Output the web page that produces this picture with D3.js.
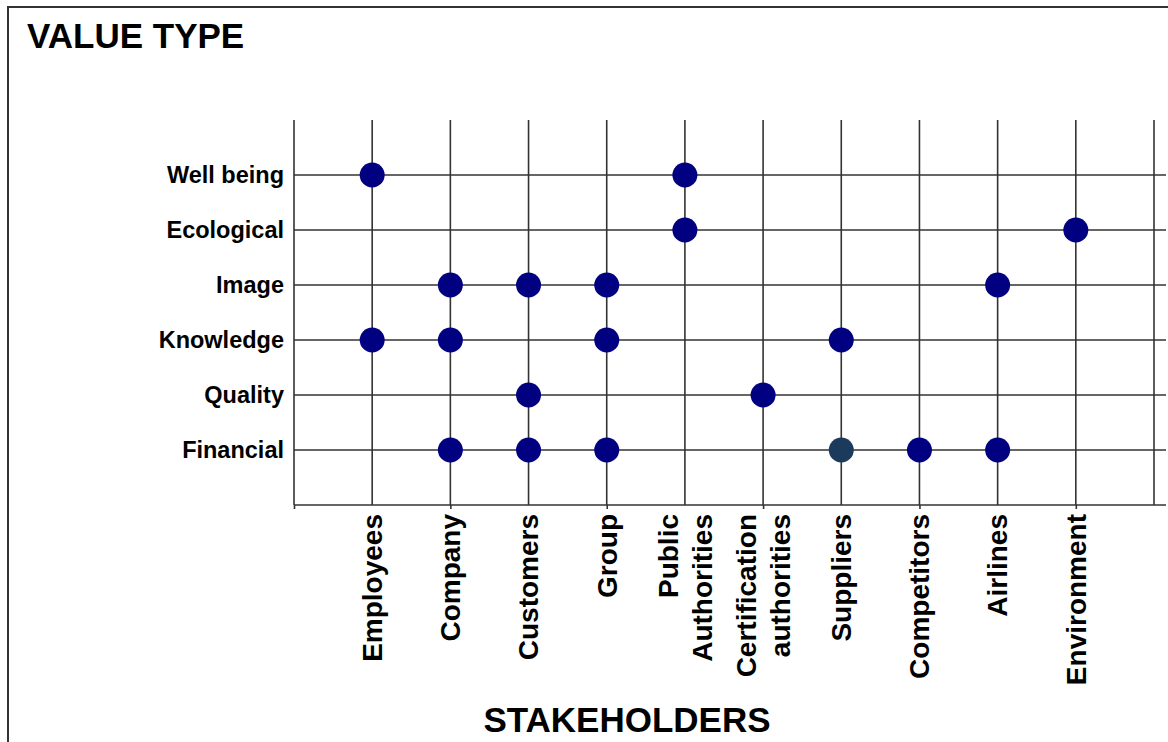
<!DOCTYPE html>
<html>
<head>
<meta charset="utf-8">
<script src="https://cdn.jsdelivr.net/npm/d3@7"></script>
<style>
  body { margin: 0; background: #fff; }
  text { font-family: "Liberation Sans", Arial, sans-serif; font-weight: bold; fill: #000; }
</style>
</head>
<body>
<script>
var width = 1168,
    height = 742

// Stakeholders on the x axis, left to right ("\n" breaks a label)
var stakeholders = ["Employees", "Company", "Customers", "Group", "Public\nAuthorities",
    "Certification\nauthorities", "Suppliers", "Competitors", "Airlines", "Environment"]

// Value types on the y axis, bottom to top
var valueTypes = ["Financial", "Quality", "Knowledge", "Image", "Ecological", "Well being"]

// Which stakeholder gets which value
var links = [
    ["Well being", "Employees"], ["Well being", "Public\nAuthorities"],
    ["Ecological", "Public\nAuthorities"], ["Ecological", "Environment"],
    ["Image", "Company"], ["Image", "Customers"], ["Image", "Group"], ["Image", "Airlines"],
    ["Knowledge", "Employees"], ["Knowledge", "Company"], ["Knowledge", "Group"], ["Knowledge", "Suppliers"],
    ["Quality", "Customers"], ["Quality", "Certification\nauthorities"],
    ["Financial", "Company"], ["Financial", "Customers"], ["Financial", "Group"],
    ["Financial", "Suppliers"], ["Financial", "Competitors"], ["Financial", "Airlines"]
]

// the one dot drawn in a different blue
var highlighted = [["Financial", "Suppliers"]]

var svg = d3.select("body").append("svg")
    .attr("width", width)
    .attr("height", height)

// frame: only top and left edges are inside the picture
svg.append("path")
    .attr("d", "M8," + height + "V7H" + width)
    .attr("fill", "none")
    .attr("stroke", "#333")
    .attr("stroke-width", 2)

var x = d3.scaleLinear()
    .domain([0, stakeholders.length + 1])
    .range([294, 1154])

var y = d3.scaleLinear()
    .domain([0, valueTypes.length + 1])
    .range([505, 120])

var grid = svg.append("g")
    .attr("stroke", "#333")
    .attr("stroke-width", 1.6)

// horizontal lines
grid.selectAll(".h")
    .data(d3.range(1, valueTypes.length + 1))
    .enter().append("line")
    .attr("x1", x(0)).attr("x2", 1166)
    .attr("y1", function(d) { return y(d) })
    .attr("y2", function(d) { return y(d) })

// vertical lines (one extra at the right end)
grid.selectAll(".v")
    .data(d3.range(0, stakeholders.length + 2))
    .enter().append("line")
    .attr("y1", y(7)).attr("y2", y(0))
    .attr("x1", function(d) { return x(d) })
    .attr("x2", function(d) { return x(d) })

// bottom axis with ticks at every other line
var xAxis = svg.append("g")
    .attr("transform", "translate(0," + y(0) + ")")
    .call(d3.axisBottom(x).tickValues(d3.range(0, 11, 2)).tickSize(4).tickFormat(""))
xAxis.select(".domain").attr("d", "M" + x(0) + ",0H1166").attr("stroke", "#333").attr("stroke-width", 1.6)
xAxis.selectAll(".tick line").attr("stroke", "#333").attr("stroke-width", 1.6)

// y labels
svg.selectAll(".ylab")
    .data(valueTypes)
    .enter().append("text")
    .attr("x", 284)
    .attr("y", function(d, i) { return y(i + 1) })
    .attr("dy", "0.35em")
    .attr("text-anchor", "end")
    .style("font-size", "23.5px")
    .text(function(d) { return d })

// x labels, rotated
var xlab = svg.selectAll(".xlab")
    .data(stakeholders)
    .enter().append("text")
    .attr("text-anchor", "end")
    .style("font-size", "28px")
    .attr("transform", function(d, i) { return "translate(" + x(i + 1) + ",514) rotate(-90)" })

xlab.each(function(d) {
    var lines = d.split("\n")
    var t = d3.select(this)
    lines.forEach(function(l, k) {
        t.append("tspan")
            .attr("x", 0)
            .attr("y", 0)
            .attr("dy", (0.35 + (k - (lines.length - 1) / 2) * 1.2) + "em")
            .text(l)
    })
})

// dots
function isHighlighted(d) {
    return highlighted.some(function(h) { return h[0] === d[0] && h[1] === d[1] })
}

svg.selectAll("circle")
    .data(links)
    .enter().append("circle")
    .attr("cx", function(d) { return x(stakeholders.indexOf(d[1]) + 1) })
    .attr("cy", function(d) { return y(valueTypes.indexOf(d[0]) + 1) })
    .attr("r", 12.5)
    .attr("fill", function(d) { return isHighlighted(d) ? "#1b3a5c" : "#000080" })

// titles
svg.append("text")
    .attr("x", 27).attr("y", 48)
    .style("font-size", "35px")
    .text("VALUE TYPE")

svg.append("text")
    .attr("x", 627).attr("y", 732)
    .attr("text-anchor", "middle")
    .style("font-size", "35px")
    .text("STAKEHOLDERS")
</script>
</body>
</html>
